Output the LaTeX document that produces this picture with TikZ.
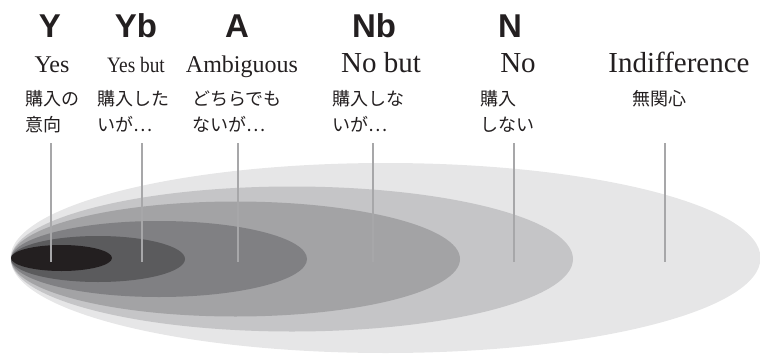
\documentclass[tikz,border=0pt]{standalone}
\usepackage{fontspec}
\setmainfont{Liberation Serif}
\newfontfamily\hvb{Liberation Sans}
\newfontfamily\cjk{Noto Sans CJK JP}
\definecolor{cA}{HTML}{E6E6E7}
\definecolor{cB}{HTML}{C5C5C7}
\definecolor{cC}{HTML}{A3A3A5}
\definecolor{cD}{HTML}{808083}
\definecolor{cE}{HTML}{5B5B5D}
\definecolor{cF}{HTML}{231F20}
\definecolor{lineg}{HTML}{A7A7A9}
\definecolor{ink}{HTML}{231F20}
\begin{document}
\begin{tikzpicture}[x=1pt,y=-1pt,
  code/.style={font=\hvb\bfseries\fontsize{33}{33}\selectfont, anchor=base, inner sep=0pt, text=ink},
  eng/.style={font=\fontsize{24}{24}\selectfont, anchor=base, inner sep=0pt, text=ink},
  jp/.style={font=\cjk\fontsize{18}{26}\selectfont, anchor=base west, inner sep=0pt, align=left, text=ink},
  marker/.style={draw=lineg, line width=2pt}]
\useasboundingbox (0,0) rectangle (760,356);
% nested ellipses
\fill[cA] (385.5,258) ellipse [x radius=375, y radius=95];
\fill[cB] (292,259) ellipse [x radius=281, y radius=72.5];
\fill[cC] (235.5,259) ellipse [x radius=224.5, y radius=57.5];
\fill[cD] (159,259) ellipse [x radius=148, y radius=38];
\fill[cE] (98,259) ellipse [x radius=87, y radius=23];
\fill[cF] (61.5,258) ellipse [x radius=50.5, y radius=13];
% codes
\node[code] (y)  at (50,37) {Y};
\node[code] (yb) at (136,37) {Yb};
\node[code] (a)  at (237,37) {A};
\node[code] (nb) at (374,37) {Nb};
\node[code] (n)  at (510,37) {N};
% english
\node[eng] (yes) at (52,72) {Yes};
\node[eng, font=\fontsize{22}{22}\selectfont] (yesbut) at (136,72) {\scalebox{0.88}[1]{Yes but}};
\node[eng] (amb) at (242,72) {Ambiguous};
\node[eng, font=\fontsize{29}{29}\selectfont] (nobut) at (381,72) {No but};
\node[eng, font=\fontsize{29}{29}\selectfont] (no) at (518,72) {No};
\node[eng, font=\fontsize{29}{29}\selectfont] (ind) at (679,72) {Indifference};
% japanese (base anchor = last line)
\node[jp] (j1) at (25,131) {購入の\\意向};
\node[jp] (j2) at (97,131) {購入した\\いが…};
\node[jp] (j3) at (192,131) {どちらでも\\ないが…};
\node[jp] (j4) at (332,131) {購入しな\\いが…};
\node[jp] (j5) at (480,131) {購入\\しない};
\node[jp] (j6) at (632,105) {無関心};
% markers
\foreach \nm/\x in {m1/51, m2/142, m3/238, m4/373, m5/514, m6/665} {
  \coordinate (\nm t) at (\x,143);
  \coordinate (\nm b) at (\x,262);
  \draw[marker] (\nm t) -- (\nm b);
}
\end{tikzpicture}
\end{document}
